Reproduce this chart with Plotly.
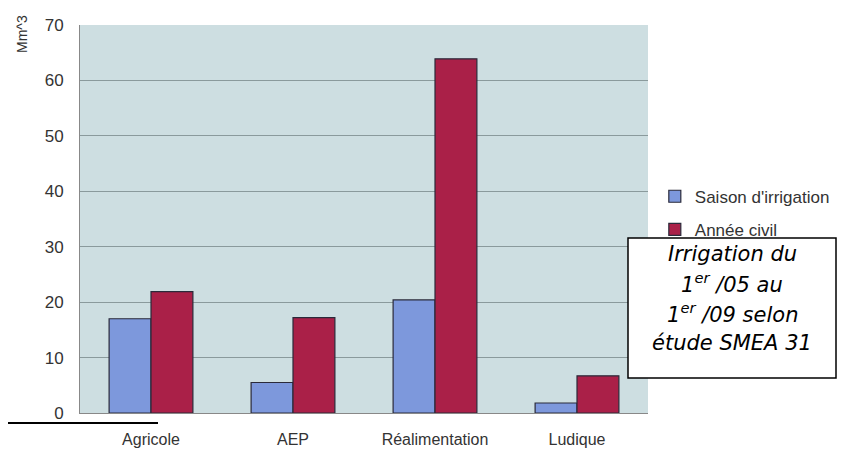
import plotly.graph_objects as go

categories = ["Agricole", "AEP", "Réalimentation", "Ludique"]
saison = [17.0, 5.5, 20.4, 1.8]
annee = [21.9, 17.2, 63.9, 6.7]
series_names = ["Saison d'irrigation", "Année civil"]
y_ticks = [0, 10, 20, 30, 40, 50, 60, 70]
note_lines = ["Irrigation du", "1<sup>er</sup> /05 au", "1<sup>er</sup> /09 selon", "étude SMEA 31"]

fig = go.Figure()
fig.add_trace(go.Bar(x=categories, y=saison, name=series_names[0], legendgroup="a",
                     marker=dict(color="#7d98dc", line=dict(color="#2a2a3a", width=1.2))))
fig.add_trace(go.Bar(x=categories, y=annee, name=series_names[1], legendgroup="b",
                     marker=dict(color="#aa2048", line=dict(color="#2a2a3a", width=1.2))))

fig.update_layout(
    width=848, height=444,
    margin=dict(l=72, r=208, t=17, b=39, autoexpand=False),
    paper_bgcolor="white",
    plot_bgcolor="#cddee1",
    barmode="group", bargap=0.41, bargroupgap=0,
    font=dict(family="Liberation Sans, Arial", size=16, color="#222"),
    showlegend=True,
    legend=dict(x=1.012, y=0.515, xanchor="left", yanchor="middle",
                font=dict(size=17, color="#333"), itemwidth=30,
                tracegroupgap=8, bgcolor="rgba(0,0,0,0)"),
    xaxis=dict(showgrid=False, ticks="", ticklabelstandoff=12, automargin=False,
               showline=True, linecolor="#888", linewidth=1,
               tickfont=dict(size=16, color="#333")),
    yaxis=dict(range=[0, 70], tickvals=y_ticks, showgrid=True, automargin=False,
               gridcolor="#8a9a9c", gridwidth=1, ticks="",
               ticklabelstandoff=12, showline=True, linecolor="#888",
               tickfont=dict(size=17, color="#333"), zeroline=False),
)

fig.add_annotation(xref="paper", yref="paper", x=-58/568, y=1.031,
                   text="Mm^3", textangle=-90, showarrow=False,
                   xanchor="center", yanchor="top",
                   font=dict(size=14, color="#333"))

# note box
fig.add_shape(type="rect", xref="paper", yref="paper", layer="above",
              x0=(628 - 80) / 568, x1=(836 - 80) / 568,
              y0=(413 - 378) / 388, y1=(413 - 238) / 388,
              fillcolor="white", line=dict(color="black", width=1.5))
line_y_px = [254, 283, 313, 343]
for txt, ypx in zip(note_lines, line_y_px):
    fig.add_annotation(xref="paper", yref="paper", x=(732 - 80) / 568,
                       y=(413 - ypx) / 388, xanchor="center", yanchor="middle",
                       text="<i>" + txt + "</i>", showarrow=False,
                       font=dict(family="DejaVu Sans", size=21, color="black"))

fig.add_shape(type="line", xref="paper", yref="paper",
              x0=-85/568, x1=78/568, y0=-10/388, y1=-10/388,
              line=dict(color="black", width=2))

fig.write_html("out.html")
